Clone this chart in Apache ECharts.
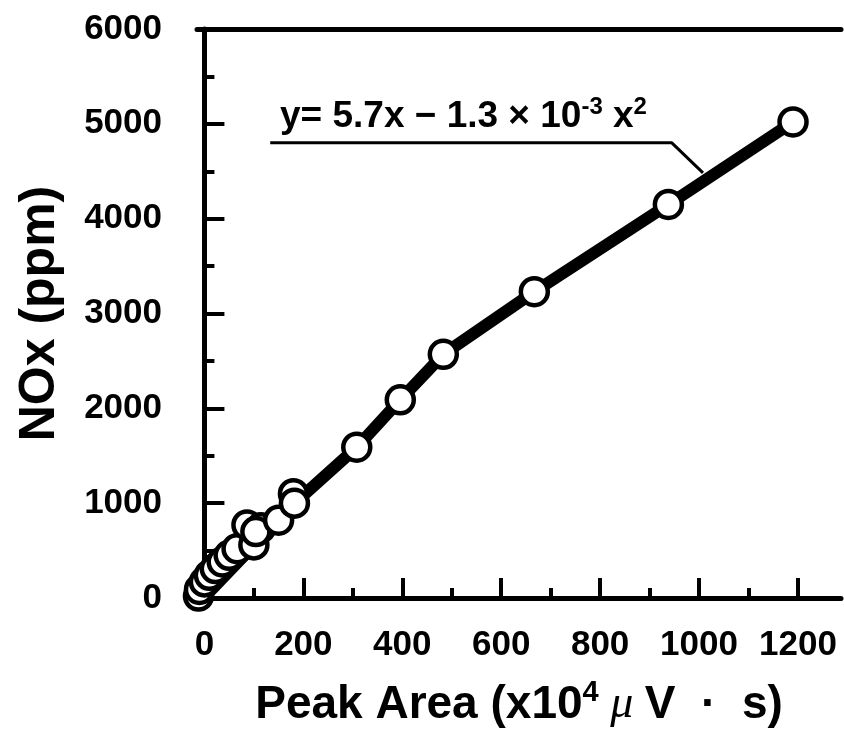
<!DOCTYPE html>
<html>
<head>
<meta charset="utf-8">
<script src="https://cdn.jsdelivr.net/npm/echarts@6/dist/echarts.min.js"></script>
<style>
html, body { margin: 0; padding: 0; background: #fff; }
#main { width: 844px; height: 736px; }
</style>
</head>
<body>
<div id="main"></div>
<script>
// readings: peak area (x10^4 uV.s) vs NOx (ppm)
var pointX = [-12, -10, 0, 10, 22, 36, 50, 66, 100, 86, 114, 104, 150, 180, 182, 308, 396, 483, 667, 938, 1190];
var pointY = [20, 90, 170, 240, 310, 380, 450, 520, 560, 770, 740, 700, 820, 1100, 1000, 1590, 2090, 2570, 3230, 4150, 5020];

// thick fitted curve, traced through the picture
var curveX = [0, 182, 308, 396, 483, 667, 938, 1190];
var curveY = [10, 1000, 1590, 2090, 2570, 3230, 4150, 5020];

// leader line from the equation to the curve
var leaderX = [133, 945, 1008];
var leaderY = [4800, 4800, 4483];

var xMajor = [0, 200, 400, 600, 800, 1000, 1200];
var xMinor = [100, 300, 500, 700, 900, 1100];

var FONT = "'Liberation Sans', Arial, sans-serif";

function pairs(xs, ys) {
    var out = [];
    for (var i = 0; i < xs.length; i++) {
        out.push([xs[i], ys[i]]);
    }
    return out;
}

function plain(v) {
    return String(v);
}

var myChart = echarts.init(document.getElementById('main'));

var option = {
    animation: false,
    backgroundColor: '#fff',
    grid: {
        left: 197,
        right: 3,
        top: 29,
        bottom: 138,
        outerBoundsMode: 'none'
    },
    xAxis: [
        {
            type: 'value',
            position: 'bottom',
            min: -15,
            max: 1287,
            axisLine: { lineStyle: { color: '#000', width: 5 } },
            axisTick: { inside: true, length: 20, customValues: xMajor, lineStyle: { color: '#000', width: 4 } },
            axisLabel: {
                customValues: xMajor, margin: 30, formatter: plain,
                color: '#000', fontSize: 35, fontWeight: 'bold', fontFamily: FONT
            },
            splitLine: { show: false },
            name: '{a|Peak Area (x10}{s|4}{m| μ }{a|V  ·  s)}',
            nameLocation: 'middle',
            nameGap: 80,
            nameTextStyle: {
                color: '#000',
                rich: {
                    a: { fontSize: 46, fontWeight: 'bold', fontFamily: FONT, color: '#000', lineHeight: 54 },
                    s: { fontSize: 29, fontWeight: 'bold', fontFamily: FONT, color: '#000', lineHeight: 30, verticalAlign: 'top' },
                    m: { fontSize: 46, fontStyle: 'italic', fontFamily: "'Liberation Serif', serif", color: '#000', lineHeight: 54 }
                }
            }
        },
        {
            type: 'value',
            position: 'bottom',
            min: -15,
            max: 1287,
            axisLine: { show: false },
            axisTick: { inside: true, length: 10, customValues: xMinor, lineStyle: { color: '#000', width: 4 } },
            axisLabel: { show: false },
            splitLine: { show: false }
        },
        {
            type: 'value',
            position: 'top',
            min: -15,
            max: 1287,
            axisLine: { lineStyle: { color: '#000', width: 5 } },
            axisTick: { show: false },
            axisLabel: { show: false },
            splitLine: { show: false }
        }
    ],
    yAxis: [
        {
            type: 'value',
            position: 'left',
            min: 0,
            max: 6000,
            interval: 1000,
            axisLine: { show: true, lineStyle: { color: '#000', width: 5 } },
            axisTick: { show: true, inside: true, length: 20, lineStyle: { color: '#000', width: 4 } },
            minorTick: { show: true, splitNumber: 2, length: 10, lineStyle: { color: '#000', width: 4 } },
            axisLabel: { margin: 35, formatter: plain, color: '#000', fontSize: 35, fontWeight: 'bold', fontFamily: FONT },
            splitLine: { show: false },
            minorSplitLine: { show: false },
            name: 'NOx (ppm)',
            nameLocation: 'middle',
            nameGap: 132,
            nameTextStyle: { color: '#000', fontSize: 50, fontWeight: 'bold', fontFamily: FONT }
        },
        {
            type: 'value',
            position: 'right',
            min: 0,
            max: 6000,
            axisLine: { show: true, lineStyle: { color: '#000', width: 2 } },
            axisTick: { show: false },
            axisLabel: { show: false },
            splitLine: { show: false }
        }
    ],
    graphic: [
        {
            type: 'text',
            left: 280,
            top: 95,
            style: {
                text: '{a|y= 5.7x − 1.3 × 10}{s|-3}{a| x}{s|2}',
                rich: {
                    a: { fontSize: 37, fontWeight: 'bold', fontFamily: FONT, fill: '#000', lineHeight: 44 },
                    s: { fontSize: 24, fontWeight: 'bold', fontFamily: FONT, fill: '#000', lineHeight: 26, verticalAlign: 'top' }
                }
            }
        }
    ],
    series: [
        {
            name: 'leader',
            type: 'line',
            xAxisIndex: 0,
            yAxisIndex: 0,
            data: pairs(leaderX, leaderY),
            showSymbol: false,
            lineStyle: { color: '#000', width: 3 },
            z: 2
        },
        {
            name: 'fit',
            type: 'line',
            xAxisIndex: 0,
            yAxisIndex: 0,
            data: pairs(curveX, curveY),
            showSymbol: false,
            lineStyle: { color: '#000', width: 12, join: 'round', cap: 'round' },
            z: 3
        },
        {
            name: 'NOx',
            type: 'scatter',
            xAxisIndex: 0,
            yAxisIndex: 0,
            data: pairs(pointX, pointY),
            symbol: 'circle',
            symbolSize: 27,
            clip: false,
            itemStyle: { color: '#fff', borderColor: '#000', borderWidth: 4.5, opacity: 1 },
            z: 4
        }
    ]
};

if (option && typeof option === "object") {
    myChart.setOption(option, true);
}
</script>
</body>
</html>
